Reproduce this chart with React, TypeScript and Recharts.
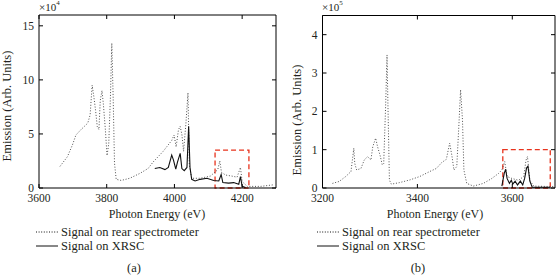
import { LineChart, Line, XAxis, YAxis, ReferenceArea } from 'recharts'

// (a) photon energy (eV) and emission (x10^4)
const rearAEnergy = [3662, 3684, 3699, 3709, 3724, 3734, 3744, 3751, 3757, 3762, 3767, 3772, 3777, 3781, 3786, 3790, 3796, 3801, 3806, 3811, 3815, 3819, 3823, 3828, 3843, 3868, 3898, 3922, 3937, 3967, 3992, 3999, 4005, 4012, 4017, 4022, 4027, 4034, 4040, 4044, 4051, 4076, 4106, 4121, 4128, 4134, 4139, 4151, 4170, 4185, 4195, 4200, 4215, 4255, 4294]
const rearAValues = [2.0, 2.9, 4.0, 4.9, 5.4, 5.7, 6.0, 6.75, 9.5, 8.45, 7.2, 5.7, 5.4, 8.1, 9.0, 7.8, 5.4, 3.0, 4.1, 8.45, 13.4, 8.45, 2.3, 0.8, 0.7, 0.9, 1.35, 1.8, 2.4, 3.4, 4.4, 4.9, 3.8, 5.4, 5.7, 4.95, 3.4, 6.0, 8.8, 2.1, 0.9, 0.9, 1.1, 1.5, 1.7, 2.5, 1.45, 1.2, 1.1, 1.0, 1.9, 0.6, 0.15, 0.15, 0.3]
const xrscAEnergy = [3942, 3957, 3972, 3982, 3992, 3997, 4004, 4009, 4017, 4022, 4029, 4037, 4042, 4046, 4051, 4061, 4076, 4096, 4116, 4131, 4138, 4143, 4160, 4175, 4190, 4195, 4200, 4210]
const xrscAValues = [1.8, 1.9, 1.7, 1.9, 3.05, 2.6, 1.75, 2.4, 3.2, 1.8, 1.6, 1.9, 5.7, 1.9, 0.8, 0.65, 0.8, 0.9, 0.7, 0.65, 1.25, 0.5, 0.45, 0.5, 0.35, 1.05, 0.15, 0.05]

// (b) photon energy (eV) and emission (x10^5)
const rearBEnergy = [3221, 3235, 3249, 3260, 3263, 3266, 3268, 3272, 3281, 3288, 3295, 3302, 3306, 3312, 3316, 3322, 3326, 3329, 3333, 3336, 3338, 3341, 3345, 3362, 3384, 3405, 3426, 3440, 3451, 3461, 3468, 3473, 3477, 3483, 3488, 3491, 3495, 3498, 3504, 3518, 3539, 3557, 3571, 3578, 3584, 3589, 3599, 3613, 3624, 3629, 3632, 3637, 3645, 3674, 3690]
const rearBValues = [0.12, 0.17, 0.3, 0.43, 0.73, 1.04, 0.64, 0.47, 0.51, 0.73, 0.82, 0.73, 1.08, 1.3, 1.08, 0.82, 0.6, 0.64, 2.12, 3.47, 2.12, 0.21, 0.1, 0.14, 0.21, 0.3, 0.43, 0.51, 0.66, 0.75, 1.17, 0.82, 0.47, 0.56, 1.78, 2.56, 1.78, 0.47, 0.12, 0.05, 0.12, 0.25, 0.38, 0.47, 0.69, 0.3, 0.25, 0.2, 0.3, 0.73, 0.82, 0.2, 0.05, 0.04, 0.04]
const xrscBEnergy = [3578, 3583, 3586, 3589, 3594, 3598, 3601, 3606, 3611, 3617, 3622, 3626, 3630, 3633, 3637, 3642, 3659, 3680]
const xrscBValues = [0.05, 0.38, 0.49, 0.25, 0.12, 0.2, 0.1, 0.18, 0.08, 0.18, 0.08, 0.25, 0.52, 0.57, 0.18, 0.02, 0.02, 0.02]

const xTicksA = [3600, 3800, 4000, 4200]
const yTicksA = [0, 5, 10, 15]
const xTicksB = [3200, 3400, 3600]
const yTicksB = [0, 1, 2, 3, 4]

const legendLabels = ['Signal on rear spectrometer', 'Signal on XRSC']

const FONT = '"Liberation Serif", "DejaVu Serif", serif'
const INK = '#231f20'
const RED = '#e8331d'

const zip = (xs: number[], ys: number[]) => xs.map((e, i) => ({ e, v: ys[i] }))

interface PanelProps {
  left: number
  rear: { e: number; v: number }[]
  xrsc: { e: number; v: number }[]
  xDomain: [number, number]
  yDomain: [number, number]
  xTicks: number[]
  yTicks: number[]
  box: [number, number, number]
  margin: { top: number; right: number; bottom: number; left: number }
  yWidth: number
}

function Panel({ left, rear, xrsc, xDomain, yDomain, xTicks, yTicks, box, margin, yWidth }: PanelProps) {
  const tick = { fill: INK, fontSize: 11.5, fontFamily: FONT }
  const axisLine = { stroke: '#000', strokeWidth: 1 }
  return (
    <div style={{ position: 'absolute', left, top: 0 }}>
      <LineChart width={280} height={210} margin={margin}>
        <XAxis
          type="number"
          dataKey="e"
          domain={xDomain}
          ticks={xTicks}
          height={22}
          tick={tick}
          tickSize={-4}
          tickMargin={10}
          axisLine={axisLine}
          tickLine={axisLine}
          allowDataOverflow
        />
        <XAxis
          xAxisId="top"
          orientation="top"
          type="number"
          dataKey="e"
          domain={xDomain}
          ticks={xTicks}
          height={1}
          tickFormatter={() => ''}
          tickSize={-4}
          axisLine={axisLine}
          tickLine={axisLine}
          allowDataOverflow
        />
        <YAxis
          type="number"
          domain={yDomain}
          ticks={yTicks}
          width={yWidth}
          tick={tick}
          tickSize={-4}
          tickMargin={9}
          axisLine={axisLine}
          tickLine={axisLine}
          allowDataOverflow
        />
        <YAxis
          yAxisId="right"
          orientation="right"
          type="number"
          domain={yDomain}
          ticks={yTicks}
          width={1}
          tickFormatter={() => ''}
          tickSize={-4}
          axisLine={axisLine}
          tickLine={axisLine}
          allowDataOverflow
        />
        <Line
          data={rear}
          dataKey="v"
          type="linear"
          stroke="#505050"
          strokeWidth={1}
          strokeDasharray="1 1.8"
          dot={false}
          isAnimationActive={false}
        />
        <Line
          data={xrsc}
          dataKey="v"
          type="linear"
          stroke="#111"
          strokeWidth={1.1}
          dot={false}
          isAnimationActive={false}
        />
        <ReferenceArea
          x1={box[0]}
          x2={box[1]}
          y1={0}
          y2={box[2]}
          fill="none"
          fillOpacity={0}
          stroke={RED}
          strokeWidth={1.3}
          strokeDasharray="5 3"
        />
      </LineChart>
    </div>
  )
}

const at = (x: number, y: number, size: number, extra: React.CSSProperties = {}): React.CSSProperties => ({
  position: 'absolute',
  left: x,
  top: y,
  transform: 'translate(-50%, -50%)',
  whiteSpace: 'nowrap',
  fontSize: size,
  lineHeight: 1,
  ...extra,
})

function LegendRow({ x, y, dashed, label }: { x: number; y: number; dashed: boolean; label: string }) {
  return (
    <div style={{ position: 'absolute', left: x, top: y - 8, height: 16, display: 'flex', alignItems: 'center', whiteSpace: 'nowrap', fontSize: 12.5, fontFamily: FONT }}>
      <svg width={22} height={4} style={{ marginRight: 3 }}>
        <line x1={0} y1={2} x2={22} y2={2} stroke="#111" strokeWidth={1} strokeDasharray={dashed ? '1 1.6' : undefined} />
      </svg>
      <span>{label}</span>
    </div>
  )
}

export default function App() {
  return (
    <div style={{ position: 'relative', width: 560, height: 276, background: '#fff', fontFamily: FONT, color: INK }}>
      <style>{'body{margin:0}'}</style>
      <Panel
        left={0}
        rear={zip(rearAEnergy, rearAValues)}
        xrsc={zip(xrscAEnergy, xrscAValues)}
        xDomain={[3600, 4300]}
        yDomain={[0, 16]}
        xTicks={xTicksA}
        yTicks={yTicksA}
        box={[4120, 4220, 3.5]}
        margin={{ top: 14, right: 3, bottom: 0, left: 0 }}
        yWidth={39}
      />
      <Panel
        left={280}
        rear={zip(rearBEnergy, rearBValues)}
        xrsc={zip(xrscBEnergy, xrscBValues)}
        xDomain={[3200, 3690]}
        yDomain={[0, 4.5]}
        xTicks={xTicksB}
        yTicks={yTicksB}
        box={[3580, 3680, 1.0]}
        margin={{ top: 14.5, right: 4, bottom: 0, left: 0 }}
        yWidth={42.5}
      />

      <div style={{ position: 'absolute', left: 39, top: 1, fontSize: 11, whiteSpace: 'nowrap' }}>
        ×10<sup style={{ fontSize: 7, verticalAlign: 'top', position: 'relative', top: -2 }}>4</sup>
      </div>
      <div style={{ position: 'absolute', left: 322, top: 1, fontSize: 11, whiteSpace: 'nowrap' }}>
        ×10<sup style={{ fontSize: 7, verticalAlign: 'top', position: 'relative', top: -2 }}>5</sup>
      </div>

      <div style={at(7, 106, 12.5, { transform: 'translate(-50%, -50%) rotate(-90deg)' })}>Emission (Arb. Units)</div>
      <div style={at(297, 120, 12.5, { transform: 'translate(-50%, -50%) rotate(-90deg)' })}>Emission (Arb. Units)</div>

      <div style={at(157, 214, 12)}>Photon Energy (eV)</div>
      <div style={at(435, 214, 12)}>Photon Energy (eV)</div>

      <LegendRow x={36} y={232} dashed label={legendLabels[0]} />
      <LegendRow x={36} y={246} dashed={false} label={legendLabels[1]} />
      <LegendRow x={317} y={232} dashed label={legendLabels[0]} />
      <LegendRow x={317} y={246} dashed={false} label={legendLabels[1]} />

      <div style={at(134, 268, 12.5)}>(a)</div>
      <div style={at(418, 268, 12.5)}>(b)</div>
    </div>
  )
}
